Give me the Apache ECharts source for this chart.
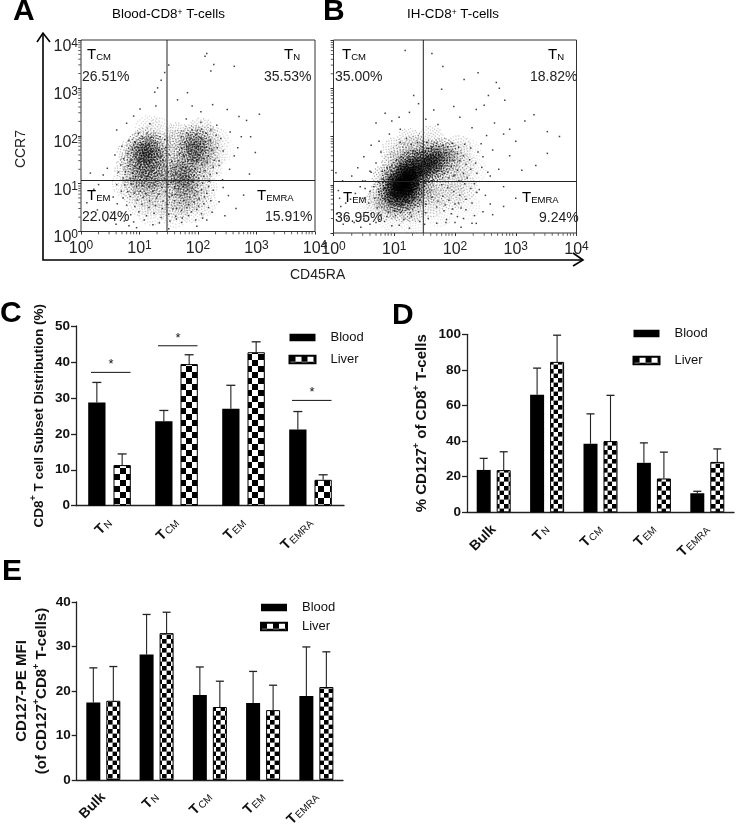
<!DOCTYPE html>
<html><head><meta charset="utf-8">
<style>html,body{margin:0;padding:0;background:#fff}#c{width:736px;height:825px}</style>
<script src="https://cdn.jsdelivr.net/npm/echarts@6/dist/echarts.min.js"></script></head>
<body><div id="c"></div>
<script>
// Panel C
const catsC=['N','CM','EM','EMRA'];
const bloodC=[28.7,23.5,27,21.2], bloodTopC=[34.3,26.5,33.5,26.2];
const liverC=[11.3,39.4,42.7,7.2], liverTopC=[14.4,42,45.6,8.6];
const sigC=[[0,37.1],[1,44.5],[3,29.3]];
// Panel D
const catsD=['Bulk','N','CM','EM','EMRA'];
const bloodD=[23.8,66,38.5,27.8,10.7], bloodTopD=[30.3,81,55.3,39,11.8];
const liverD=[23.7,84.5,40,19,28.3], liverTopD=[34,99.5,65.7,33.8,35.6];
// Panel E
const bloodE=[17.4,28.2,19.1,17.3,18.9], bloodTopE=[25.2,37.2,25.4,24.4,29.9];
const liverE=[17.8,33,16.4,15.7,20.9], liverTopE=[25.5,37.7,22.2,21.3,28.8];
// Flow panels: log10 x 100 of CD45RA, CCR7
const shadeA=[100,180,5,110,170,8,120,175,6,100,160,6,115,155,6,125,160,5,90,150,4,105,140,6,120,140,6,135,145,4,95,125,5,110,120,6,125,120,5,140,120,4,85,165,3,130,180,4,110,190,4,95,105,4,110,100,4,125,100,4,140,100,3,80,130,3,75,100,2,90,85,3,110,80,3,130,80,3,150,150,3,150,170,3,155,125,3,160,100,3,190,195,5,200,185,7,190,175,6,205,170,5,180,160,5,195,155,5,175,140,5,190,135,4,175,120,6,180,105,6,165,115,4,170,95,4,185,85,4,165,75,3,180,65,3,165,55,3,205,130,3,215,170,3,210,150,3,225,160,2,220,135,2,200,105,3,195,75,3,150,60,2,130,60,2,100,60,2,120,40,2,160,35,2,190,45,2,210,60,2,210,90,2,215,195,3,205,210,3,230,190,2,240,170,1,135,210,2,115,215,2,170,185,4,165,200,3];
const dotsA=[215,372,212,366,227,349,222,335,262,345,131,300,137,316,143,332,150,348,126,291,101,256,90,241,78,226,61,212,165,275,182,290,190,262,205,250,225,265,250,255,270,240,283,232,305,245,180,235,205,228,232,222,255,208,290,198,298,165,268,175,128,262,118,225,98,205,82,190,70,178,58,160,45,132,38,118,30,98,22,88,16,122,10,60,28,45,18,25,42,22,60,15,82,12,95,8,123,14,150,6,172,19,198,11,215,24,246,33,265,48,278,76,288,120,242,108,254,130,236,148,262,158,274,198,
105,198,113,206,92,187,121,197,135,198,128,186,143,192,104,182,96,176,117,181,88,172,109,170,122,168,133,171,145,176,79,163,94,162,103,158,115,157,126,155,138,158,151,160,73,152,86,149,98,147,107,150,118,146,129,144,140,149,155,146,68,139,81,137,92,136,102,138,111,134,122,135,134,132,146,136,160,133,64,124,76,125,88,122,97,126,106,123,116,119,127,122,138,117,149,124,157,118,72,112,84,110,93,114,101,108,112,109,121,111,132,106,143,110,154,103,61,98,75,97,86,99,95,94,105,96,117,93,126,97,138,92,149,98,160,90,
69,84,80,83,91,80,101,84,111,79,123,84,133,78,145,83,156,76,55,72,72,70,84,73,96,66,106,71,117,64,129,70,140,63,151,72,62,58,78,55,92,52,104,57,116,50,127,54,139,48,147,57,157,47,52,40,70,38,85,35,99,41,112,33,125,38,137,29,150,36,163,26,74,22,90,20,108,24,134,18,152,22,
172,198,181,206,190,212,198,203,206,214,214,205,222,212,231,201,239,194,178,187,187,193,196,188,205,195,213,187,221,191,172,174,181,177,189,170,197,176,206,168,214,176,224,170,233,175,243,168,168,162,176,158,185,163,192,155,201,160,209,153,218,158,228,149,167,148,175,144,183,150,190,142,198,146,207,139,216,144,226,134,236,138,163,136,171,131,179,134,187,128,195,131,203,124,212,127,221,119,232,122,162,122,170,118,178,121,185,114,193,117,201,111,210,115,219,105,161,108,168,104,176,108,183,101,191,105,199,97,208,101,218,94,160,93,167,90,175,94,182,87,190,91,198,83,206,87,215,80,226,86,
162,78,170,74,177,79,186,71,194,76,202,68,211,72,222,64,160,64,168,60,176,65,184,56,193,61,201,53,210,58,218,50,163,48,172,44,181,50,189,41,198,46,206,37,162,32,173,28,184,33,196,24,208,28,224,40,236,62,243,92,252,75,
174,136,178,126,172,112,180,116,176,98,184,108,186,182,193,182,200,178,196,165,204,184,190,150,199,150,112,172,106,164,118,162,101,152,108,145,116,139,100,132,110,126,103,116,114,115,122,127];
const shadeB=[118,110,10,110,100,10,125,120,10,105,85,9,120,90,10,130,100,9,135,125,9,115,130,9,100,110,8,95,90,7,110,70,7,125,75,7,95,70,5,140,145,7,150,130,7,160,150,7,165,135,6,170,155,6,155,165,5,130,145,6,180,170,4,190,160,4,185,140,3,145,105,4,150,85,3,140,80,3,90,55,3,110,50,3,130,50,3,80,80,3,75,65,2,85,115,3,100,140,3,115,160,3,135,175,3,210,140,2,200,115,2,175,110,2,175,85,2,195,75,2,215,95,2,160,60,2,60,50,1,95,30,1,130,25,1,175,40,1,220,55,1,230,130,1,205,175,2,220,170,1,160,195,2,125,190,2,100,170,2];
const dotsB=[118,378,162,372,180,345,215,318,238,332,268,312,273,300,255,285,282,275,248,265,235,256,198,262,178,298,165,255,140,268,132,285,125,250,108,240,96,232,85,248,70,228,152,236,172,225,208,240,228,218,265,228,290,215,315,232,330,245,352,210,372,200,352,165,333,140,300,190,280,205,252,202,243,185,262,172,290,160,310,130,272,132,258,118,280,96,300,72,280,55,262,38,235,20,210,12,185,22,150,18,125,10,96,15,70,22,45,12,22,30,12,55,8,88,15,108,4,125,30,118,48,108,60,128,70,145,78,168,62,182,50,158,40,135,92,205,75,190,110,215,
118,148,126,152,132,158,110,144,104,137,96,128,88,122,81,112,74,105,66,96,60,86,52,92,48,72,58,62,68,72,75,85,83,92,90,100,98,104,105,112,113,118,120,124,128,130,135,136,142,140,150,146,158,152,166,158,174,162,184,166,194,170,204,165,214,160,224,152,234,145,244,136,254,126,146,128,154,122,164,126,172,118,182,124,190,114,200,120,210,108,220,114,232,102,240,90,250,78,258,60,246,44,232,36,218,48,206,62,196,50,184,58,172,66,162,74,152,60,142,68,134,58,124,62,114,58,104,60,94,66,84,70,72,52,62,40,78,38,90,42,102,36,116,28,128,34,142,24,156,30,170,20,186,28,200,22,214,30,228,20,
120,196,110,188,128,184,138,188,146,178,154,188,162,178,170,186,180,182,188,178,196,186,206,178,216,184,226,176,238,168,246,158,198,150,208,150,218,142,226,132,236,124,176,140,186,150,194,138,204,130,214,124,178,128,188,126,198,118,206,108,216,102,226,92,236,84,178,100,188,94,198,86,208,78,218,70,228,62,180,76,190,68,200,60,210,52,170,54,182,46,194,40,204,34,152,42,140,44,126,42,112,44,100,46,88,34,76,28,96,78,102,92,108,80,114,84,122,66,130,74,136,84,142,92,148,98,156,108,160,118,92,112,96,140,88,136,80,128,104,152,112,158,122,166,130,170,138,164,146,168,
62,126,52,108,44,96,36,82,28,70,20,62,10,72,6,40,16,18,34,22,50,30,60,18,84,24,108,16];
const minorLog=[30,48,60,70,78,85,90,95];
// texture of one density stamp (a marker shape, not data)
const stampShape=[48,0,31,4,62,3,22,9,43,9,74,8,55,13,14,16,35,15,81,15,66,18,27,20,47,21,9,25,58,25,20,27,86,24,73,27,38,28,51,31,5,33,29,34,64,33,15,37,78,35,91,34,43,38,56,40,24,41,70,41,2,44,35,44,85,43,12,47,49,46,62,47,0,50,27,50,75,49,96,48,41,53,18,54,88,53,54,55,32,57,67,56,8,59,80,58,23,61,45,62,60,63,92,62,14,65,36,66,73,66,52,68,27,70,84,68,64,72,6,70,42,74,18,74,77,74,56,77,33,78,70,80,24,82,48,82,86,80,12,80,62,85,38,87,76,87,28,89,53,91,46,96,68,92];
const stampPath='path://'+Array.from({length:stampShape.length/2},(_,i)=>'M'+stampShape[2*i]+' '+stampShape[2*i+1]+'h4.5v4.5h-4.5z').join('');

const FONT='"Liberation Sans",Arial,sans-serif';
function checker(n){const c=document.createElement('canvas');c.width=c.height=n*2;const g=c.getContext('2d');g.fillStyle='#fff';g.fillRect(0,0,n*2,n*2);g.fillStyle='#000';g.fillRect(0,0,n,n);g.fillRect(n,n,n,n);return {image:c,repeat:'repeat'};}
function pairs(a){const r=[];for(let i=0;i<a.length;i+=2)r.push([a[i]/100,a[i+1]/100]);return r;}
function triples(a){const r=[];for(let i=0;i<a.length;i+=3)r.push([a[i]/100,a[i+1]/100,a[i+2]]);return r;}

const grids=[
 {left:81,top:40,width:234,height:191.5,show:true,borderColor:'#333',borderWidth:1,outerBoundsMode:'none'},
 {left:333.5,top:40,width:243,height:193,show:true,borderColor:'#333',borderWidth:1,outerBoundsMode:'none'},
 {left:76,top:326,width:268,height:179.7,outerBoundsMode:'none'},
 {left:467,top:334.3,width:267,height:178,outerBoundsMode:'none'},
 {left:76.7,top:602,width:266.3,height:178,outerBoundsMode:'none'}
];
const subRich={t:{fontFamily:FONT,fontSize:14,fontWeight:'bold',color:'#111',verticalAlign:'bottom'},s:{fontFamily:FONT,fontSize:10,color:'#111',verticalAlign:'bottom',padding:[0,0,0,1]}};
const expRich={a:{fontFamily:FONT,fontSize:16,color:'#222',verticalAlign:'bottom'},s:{fontFamily:FONT,fontSize:12,color:'#222',verticalAlign:'top',padding:[0,0,5,0]}};
const xAxes=[],yAxes=[],series=[];
[0,1].forEach(i=>{
 xAxes.push({gridIndex:i,type:'value',min:0,max:4,interval:1,splitLine:{show:false},axisLine:{show:false},axisTick:{length:3,lineStyle:{color:'#333'}},
  axisLabel:{margin:8,showMaxLabel:true,formatter:v=>'{a|10}{s|'+v+'}',rich:expRich}});
 yAxes.push({gridIndex:i,type:'value',min:0,max:4,interval:1,splitLine:{show:false},axisLine:{show:false},axisTick:{length:3,lineStyle:{color:'#333'}},
  axisLabel:{show:i===0,margin:3,padding:[12,0,0,0],formatter:v=>'{a|10}{s|'+v+'}',rich:expRich}});
});
[catsC,catsD,catsD].forEach((c,k)=>{
 xAxes.push({gridIndex:k+2,type:'category',data:c,axisLine:{lineStyle:{color:'#222',width:1.3}},axisTick:{alignWithLabel:true,length:5,lineStyle:{color:'#222',width:1.3}},
  axisLabel:{interval:0,rotate:45,margin:15,formatter:v=>v==='Bulk'?'{t|Bulk}':'{t|T}{s|'+v+'}',rich:subRich}});
});
const yLab={color:'#111',fontFamily:FONT,fontWeight:'bold',fontSize:13.5,margin:6};
const yCommon={type:'value',splitLine:{show:false},axisLine:{show:true,lineStyle:{color:'#222',width:1.3}},axisTick:{show:true,length:5,lineStyle:{color:'#222',width:1.3}},axisLabel:yLab,nameLocation:'middle',nameRotate:90};
const nameRich=fs=>({n:{fontFamily:FONT,fontWeight:'bold',fontSize:fs,color:'#111',lineHeight:20},u:{fontFamily:FONT,fontWeight:'bold',fontSize:9,color:'#111',verticalAlign:'top',lineHeight:20}});
yAxes.push({...yCommon,gridIndex:2,min:0,max:50,interval:10,nameGap:27,name:'{n|CD8}{u|+}{n| T cell Subset Distribution (%)}',nameTextStyle:{rich:nameRich(13.5)}});
yAxes.push({...yCommon,gridIndex:3,min:0,max:100,interval:20,nameGap:35,name:'{n|% CD127}{u|+}{n| of CD8}{u|+}{n| T-cells}',nameTextStyle:{rich:nameRich(15)}});
yAxes.push({...yCommon,gridIndex:4,min:0,max:40,interval:10,nameGap:25,name:'{n|CD127-PE MFI}\n{n|(of CD127}{u|+}{n|CD8}{u|+}{n| T-cells)}',nameTextStyle:{rich:nameRich(15),lineHeight:20}});

function flow(i,shade,dots,blob,stamp){
 series.push({type:'scatter',xAxisIndex:i,yAxisIndex:i,data:triples(shade),symbol:'circle',symbolSize:14,silent:true,itemStyle:{color:p=>'rgba(0,0,0,'+(p.data[2]*p.data[2]*blob)+')',shadowBlur:8,shadowColor:'rgba(0,0,0,1)'}});
 series.push({type:'scatter',xAxisIndex:i,yAxisIndex:i,data:triples(shade),symbol:stampPath,symbolSize:27,symbolRotate:(v,p)=>p.dataIndex*67,silent:true,itemStyle:{color:p=>'rgba(0,0,0,'+Math.min(1,p.data[2]*stamp)+')'}});
 series.push({type:'scatter',xAxisIndex:i,yAxisIndex:i,data:pairs(dots),symbol:'rect',symbolSize:1.5,silent:true,itemStyle:{color:'#111'}});
 const mx=[],my=[];
 [0,1,2,3].forEach(d=>minorLog.forEach(m=>{mx.push([d+m/100,0]);my.push([0,d+m/100]);}));
 series.push({type:'scatter',xAxisIndex:i,yAxisIndex:i,data:mx,symbol:'rect',symbolSize:[1,2.5],symbolOffset:[0,1.5],silent:true,itemStyle:{color:'#333'}});
 series.push({type:'scatter',xAxisIndex:i,yAxisIndex:i,data:my,symbol:'rect',symbolSize:[2.5,1],symbolOffset:[-1.5,0],silent:true,itemStyle:{color:'#333'}});
}
flow(0,shadeA,dotsA,0.0015,0.11);flow(1,shadeB,dotsB,0.006,0.15);

function bars(i,blood,bTop,liver,lTop,bw,gap,cap,chk){
 const off=(bw+gap)/2;
 series.push({name:'Blood',type:'bar',xAxisIndex:i,yAxisIndex:i,data:blood,barWidth:bw,barGap:(gap/bw*100)+'%',itemStyle:{color:'#000',borderColor:'#000',borderWidth:0},silent:true});
 series.push({name:'Liver',type:'bar',xAxisIndex:i,yAxisIndex:i,data:liver,barWidth:bw,itemStyle:{color:checker(chk),borderColor:'#000',borderWidth:1},silent:true});
 const err=(tops,vals,sign)=>({type:'custom',xAxisIndex:i,yAxisIndex:i,silent:true,z:1,
  data:tops.map((t,k)=>[k,vals[k],t]),
  renderItem:(p,api)=>{const a=api.coord([api.value(0),api.value(1)]),b=api.coord([api.value(0),api.value(2)]);const x=a[0]+sign*off;
   return {type:'group',children:[
    {type:'line',shape:{x1:x,y1:a[1],x2:x,y2:b[1]},style:{stroke:'#222',lineWidth:1.1}},
    {type:'line',shape:{x1:x-cap/2,y1:b[1],x2:x+cap/2,y2:b[1]},style:{stroke:'#222',lineWidth:1.3}}]};}});
 series.push(err(bTop,blood,-1));series.push(err(lTop,liver,1));
}
bars(2,bloodC,bloodTopC,liverC,liverTopC,17.3,8,9,6);
bars(3,bloodD,bloodTopD,liverD,liverTopD,14,6,8,4.6);
bars(4,bloodE,bloodTopE,liverE,liverTopE,14,6,8,4.6);
series.push({type:'custom',xAxisIndex:2,yAxisIndex:2,silent:true,data:sigC,
 renderItem:(p,api)=>{const c=api.coord([api.value(0),api.value(1)]);return {type:'group',children:[
  {type:'line',shape:{x1:c[0]-18.5,y1:c[1],x2:c[0]+21,y2:c[1]},style:{stroke:'#111',lineWidth:1}},
  {type:'text',x:c[0]+1.5,y:c[1]-14,style:{text:'*',fill:'#111',font:'13px '+FONT,align:'center',verticalAlign:'top'}}]};}});

const leg=(left,top,gap)=>({orient:'vertical',left,top,itemWidth:26,itemHeight:7.5,itemGap:gap,icon:'rect',selectedMode:false,data:['Blood','Liver'],textStyle:{fontFamily:FONT,fontSize:13,color:'#111',padding:[0,0,0,10]}});
const txtRich={t:{fontFamily:FONT,fontSize:15,color:'#222',verticalAlign:'bottom'},s:{fontFamily:FONT,fontSize:9.5,color:'#222',verticalAlign:'bottom'}};
const sub=(x,y,s)=>({type:'text',left:x,top:y,z:20,style:{text:'{t|T}{s|'+s+'}',rich:txtRich}});
const plain=(x,y,t,size)=>({type:'text',left:x,top:y,z:20,style:{text:t,font:size+'px '+FONT,fill:'#222'}});
const letters=[['A',13,-3],['B',323,-3],['C',0,299],['D',392,301],['E',2,557]];
const titleRich={n:{fontFamily:FONT,fontSize:13.4,color:'#333'},u:{fontFamily:FONT,fontSize:8.5,color:'#333',verticalAlign:'top'}};
const graphic=[
 ...letters.map(l=>({type:'text',left:l[1],top:l[2],z:20,style:{text:l[0],font:'bold 30px '+FONT,fill:'#000'}})),
 {type:'text',left:112,top:8,z:20,style:{text:'{n|Blood-CD8}{u|+}{n| T-cells}',rich:titleRich}},
 {type:'text',left:407,top:8,z:20,style:{text:'{n|IH-CD8}{u|+}{n| T-cells}',rich:titleRich}},
 {type:'polyline',z:20,shape:{points:[[43,33],[43,260],[582,260]]},style:{stroke:'#000',lineWidth:1.6,fill:null}},
 {type:'polyline',z:20,shape:{points:[[37,42],[43,33],[50,42]]},style:{stroke:'#000',lineWidth:1.6,fill:null}},
 {type:'polyline',z:20,shape:{points:[[573,253],[583,260],[573,266]]},style:{stroke:'#000',lineWidth:1.6,fill:null}},
 {type:'line',z:20,shape:{x1:167,y1:40,x2:167,y2:231.5},style:{stroke:'#222',lineWidth:1}},
 {type:'line',z:20,shape:{x1:81,y1:180.5,x2:315,y2:180.5},style:{stroke:'#222',lineWidth:1}},
 {type:'line',z:20,shape:{x1:423.3,y1:40,x2:423.3,y2:233},style:{stroke:'#222',lineWidth:1}},
 {type:'line',z:20,shape:{x1:333.5,y1:181.5,x2:576.5,y2:181.5},style:{stroke:'#222',lineWidth:1}},
 sub(87,47,'CM'),sub(284,47,'N'),sub(87,188,'EM'),sub(257,188,'EMRA'),
 plain(82,70,'26.51%',14),plain(264,70,'35.53%',14),plain(82,210,'22.04%',14),plain(265,210,'15.91%',14),
 sub(342,47,'CM'),sub(548,47,'N'),sub(343,190,'EM'),sub(522,190,'EMRA'),
 plain(335,70,'35.00%',14),plain(530,70,'18.82%',14),plain(335,211,'36.95%',14),plain(539,211,'9.24%',14),
 {type:'text',left:14,top:130,z:20,rotation:Math.PI/2,style:{text:'CCR7',font:'14px '+FONT,fill:'#222'}},
 plain(290,268,'CD45RA',14)
];
const chart=echarts.init(document.getElementById('c'),null,{renderer:'canvas'});
chart.setOption({animation:false,backgroundColor:'#fff',grid:grids,xAxis:xAxes,yAxis:yAxes,series,graphic,
 legend:[leg(283.5,326,9),leg(627.5,322,14),leg(255,596,6)]});
</script></body></html>
